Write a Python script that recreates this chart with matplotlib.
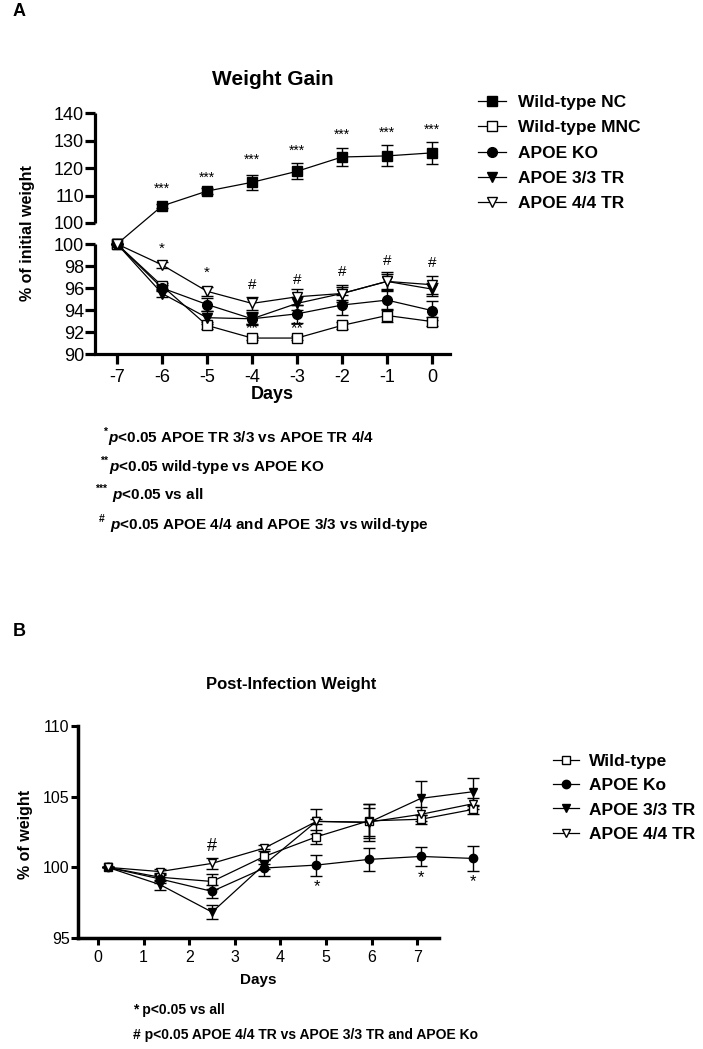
import numpy as np
import matplotlib
matplotlib.use("Agg")
import matplotlib.pyplot as plt
from matplotlib.transforms import blended_transform_factory

plt.rcParams['font.family'] = ['Liberation Sans', 'DejaVu Sans']
plt.rcParams['mathtext.fontset'] = 'custom'
plt.rcParams['mathtext.rm'] = 'Liberation Sans:bold'
plt.rcParams['mathtext.it'] = 'Liberation Sans:italic:bold'
plt.rcParams['mathtext.bf'] = 'Liberation Sans:bold'

# ---- Panel A data: weight gain (% of initial weight) ----
days_a = [-7, -6, -5, -4, -3, -2, -1, 0]
wt_nc = [100, 106.2, 111.6, 114.8, 118.8, 124.0, 124.4, 125.5]
wt_nc_err = [0, 0.7, 1.0, 2.7, 2.9, 3.3, 3.8, 4.1]
wt_mnc = [100, 96.2, 92.6, 91.45, 91.45, 92.6, 93.5, 92.95]
wt_mnc_err = [0, 0.3, 0.3, 0.2, 0.2, 0.3, 0.6, 0.4]
ko_a = [100, 96.0, 94.5, 93.2, 93.65, 94.45, 94.9, 93.95]
ko_a_err = [0, 0.3, 0.55, 0.6, 0.8, 0.9, 0.9, 0.85]
tr33_a = [100, 95.5, 93.3, 93.2, 94.6, 95.5, 96.6, 95.9]
tr33_a_err = [0, 0.3, 0.6, 0.5, 0.6, 0.8, 0.9, 0.6]
tr44_a = [100, 98.1, 95.7, 94.6, 95.2, 95.5, 96.6, 96.3]
tr44_a_err = [0, 0.3, 0.4, 0.6, 0.7, 0.6, 0.7, 0.8]
labels_a = ['Wild-type NC', 'Wild-type MNC', 'APOE KO', 'APOE 3/3 TR', 'APOE 4/4 TR']

# significance marks panel A
sig3_x = [-6, -5, -4, -3, -2, -1, 0]
sig3_y = [112.4, 116.4, 122.9, 126.3, 132.0, 132.8, 133.8]
sig1_x = [-6, -5]
sig1_y = [99.6, 97.4]
sig2_x = [-4, -3]
sig2_y = [92.3, 92.3]
hash_a_x = [-4, -3, -2, -1, 0]
hash_a_y = [96.3, 96.7, 97.45, 98.5, 98.3]

# ---- Panel B data: post-infection weight (% of weight) ----
days_b = [0, 1, 2, 3, 4, 5, 6, 7]
wt_b = [100, 99.3, 99.0, 100.77, 102.16, 103.29, 103.4, 104.1]
wt_b_err = [0, 0.3, 0.5, 0.5, 0.5, 1.2, 0.3, 0.3]
ko_b = [100, 99.18, 98.3, 99.95, 100.16, 100.56, 100.77, 100.63]
ko_b_err = [0, 0.3, 0.45, 0.55, 0.74, 0.8, 0.7, 0.9]
tr33_b = [100, 98.78, 96.83, 100.2, 103.25, 103.17, 104.88, 105.35]
tr33_b_err = [0, 0.35, 0.5, 0.3, 0.9, 1.3, 1.2, 1.0]
tr44_b = [100, 99.7, 100.28, 101.36, 103.25, 103.2, 103.75, 104.5]
tr44_b_err = [0, 0.2, 0.4, 0.2, 0.2, 1.0, 0.5, 0.4]
labels_b = ['Wild-type', 'APOE Ko', 'APOE 3/3 TR', 'APOE 4/4 TR']

star_b_x = [4, 6, 7]
star_b_y = [98.6, 99.25, 99.0]
hash_b_x = [2]
hash_b_y = [101.45]

W, H = 703, 1049
fig = plt.figure(figsize=(W / 100, H / 100), dpi=100)


def px_axes(left, top, right, bottom, **kw):
    return fig.add_axes([left / W, 1 - bottom / H, (right - left) / W, (bottom - top) / H], **kw)


# broken y scale: 90-100 stretched, 100-140 compressed, gap between
def fwd(y):
    y = np.asarray(y, dtype=float)
    return np.where(y <= 100, (y - 90) * 11, 131 + (y - 100) * 2.75)


def inv(u):
    u = np.asarray(u, dtype=float)
    return np.where(u <= 110, 90 + u / 11, np.where(u < 131, 100, 100 + (u - 131) / 2.75))


styles = [('s', 'black'), ('s', 'white'), ('o', 'black'), ('v', 'black'), ('v', 'white')]

# ================= Panel A =================
ax = px_axes(95, 113, 450, 354)
ax.set_yscale('function', functions=(fwd, inv))
ax.set_xlim(-7.49, 0.4)
ax.set_ylim(90, 140)

series_a = [(wt_nc, wt_nc_err), (wt_mnc, wt_mnc_err), (ko_a, ko_a_err),
            (tr33_a, tr33_a_err), (tr44_a, tr44_a_err)]
handles_a = []
for (vals, errs), (mk, fc), lab in zip(series_a, styles, labels_a):
    ax.errorbar(days_a, vals, yerr=errs, fmt='none', ecolor='black', elinewidth=1.0,
                capsize=4, capthick=1.0, zorder=2)
    ln, = ax.plot(days_a, vals, marker=mk, color='black', mfc=fc, mec='black',
                  ms=7, mew=1.0, lw=0.9, label=lab, zorder=3, clip_on=False)
    handles_a.append(ln)

for x, y in zip(sig3_x, sig3_y):
    ax.text(x, y, '***', ha='center', va='center', fontsize=10)
for x, y in zip(sig1_x, sig1_y):
    ax.text(x, y, '*', ha='center', va='center', fontsize=11)
for x, y in zip(sig2_x, sig2_y):
    ax.text(x, y, '**', ha='center', va='center', fontsize=12)
for x, y in zip(hash_a_x, hash_a_y):
    ax.text(x, y, '#', ha='center', va='center', fontsize=11)

ax.spines['top'].set_visible(False)
ax.spines['right'].set_visible(False)
ax.spines['left'].set_visible(False)
ax.spines['bottom'].set_linewidth(2.3)
tr = blended_transform_factory(ax.transAxes, ax.transData)
ax.plot([0, 0], [90, 100], transform=tr, color='black', lw=2.3, clip_on=False, solid_capstyle='butt')
ax.plot([0, 0], [100.0001, 140], transform=tr, color='black', lw=2.3, clip_on=False, solid_capstyle='butt')

yt = [90, 92, 94, 96, 98, 100, 100.0001, 110, 120, 130, 140]
ax.set_yticks(yt)
ax.set_yticklabels(['90', '92', '94', '96', '98', '100', '100', '110', '120', '130', '140'])
ax.minorticks_off()
ax.set_xticks(days_a)
ax.set_xticklabels([str(d) for d in days_a])
ax.tick_params(axis='y', direction='out', length=7, width=2.3, labelsize=13, pad=1)
ax.tick_params(axis='x', direction='out', length=7, width=2.3, labelsize=13, pad=4)
ax.set_xlabel('Days', fontsize=13, fontweight='bold', labelpad=0)
ax.set_ylabel('% of initial weight', fontsize=11.5, fontweight='bold')
ax.yaxis.set_label_coords(-0.17, 0.5)
ax.set_title('Weight Gain', fontsize=15, fontweight='bold', pad=20)

fig.legend(handles_a, labels_a, loc='upper left', bbox_to_anchor=(478 / W, 1 - 95 / H),
           frameon=False, prop={'weight': 'bold', 'size': 12.5}, handlelength=1.6,
           handletextpad=0.7, labelspacing=0.58, borderpad=0, borderaxespad=0)

# footnotes panel A: superscript marks drawn as small raised text
fn_a_sup = ['*', '**', '***', '#']
fn_a_sup_x = [103, 100, 95, 99]
fn_a = [r"$\mathit{p}$<0.05 APOE TR 3/3 vs APOE TR 4/4",
        r"$\mathit{p}$<0.05 wild-type vs APOE KO",
        r"$\mathit{p}$<0.05 vs all",
        r"$\mathit{p}$<0.05 APOE 4/4 and APOE 3/3 vs wild-type"]
fn_a_x = [108, 109, 112, 110]
fn_a_y = [438, 467, 495, 525]
for s, sx, t, x, y in zip(fn_a_sup, fn_a_sup_x, fn_a, fn_a_x, fn_a_y):
    fig.text(sx / W, 1 - (y - 6) / H, s, fontsize=7.5, fontweight='bold', va='center', ha='left')
    fig.text(x / W, 1 - y / H, t, fontsize=11, fontweight='bold', va='center', ha='left')

fig.text(13 / W, 1 - 12 / H, 'A', fontsize=13, fontweight='bold', va='center')
fig.text(13 / W, 1 - 632 / H, 'B', fontsize=13, fontweight='bold', va='center')

# ================= Panel B =================
axb = px_axes(78, 726, 439, 938)
axb.set_xlim(-0.44, 7.48)
axb.set_ylim(95, 110)
# data layer (points sit offset from the tick marks in the original)
axd = px_axes(78, 726, 490, 938, frameon=False)
axd.set_xlim(-0.569, 7.324)
axd.set_ylim(95, 110)
axd.set_xticks([])
axd.set_yticks([])

styles_b = [('s', 'white'), ('o', 'black'), ('v', 'black'), ('v', 'white')]
series_b = [(wt_b, wt_b_err), (ko_b, ko_b_err), (tr33_b, tr33_b_err), (tr44_b, tr44_b_err)]
handles_b = []
for (vals, errs), (mk, fc), lab in zip(series_b, styles_b, labels_b):
    axd.errorbar(days_b, vals, yerr=errs, fmt='none', ecolor='black', elinewidth=1.0,
                 capsize=4, capthick=1.0, zorder=2, clip_on=False)
    ln, = axd.plot(days_b, vals, marker=mk, color='black', mfc=fc, mec='black',
                   ms=6, mew=1.0, lw=0.9, label=lab, zorder=3, clip_on=False)
    handles_b.append(ln)

for x, y in zip(star_b_x, star_b_y):
    axd.text(x, y, '*', ha='center', va='center', fontsize=12)
for x, y in zip(hash_b_x, hash_b_y):
    axd.text(x, y, '#', ha='center', va='center', fontsize=13)

axb.spines['top'].set_visible(False)
axb.spines['right'].set_visible(False)
axb.spines['left'].set_linewidth(2.5)
axb.spines['bottom'].set_linewidth(2.5)
axb.set_xticks(days_b)
axb.set_yticks([95, 100, 105, 110])
axb.tick_params(axis='both', direction='out', length=5, width=2.2, labelsize=11.5)
axb.tick_params(axis='y', pad=1)
axb.set_xlabel('Days', fontsize=11, fontweight='bold', labelpad=6)
axb.set_ylabel('% of weight', fontsize=11.5, fontweight='bold')
axb.yaxis.set_label_coords(-0.125, 0.49)
fig.text(291 / W, 1 - 685 / H, 'Post-Infection Weight', fontsize=12, fontweight='bold',
         ha='center', va='center')

fig.legend(handles_b, labels_b, loc='upper left', bbox_to_anchor=(553 / W, 1 - 754 / H),
           frameon=False, prop={'weight': 'bold', 'size': 12.5}, handlelength=1.5,
           handletextpad=0.6, labelspacing=0.52, borderpad=0, borderaxespad=0)

fn_b = ['* p<0.05 vs all', '# p<0.05 APOE 4/4 TR vs APOE 3/3 TR and APOE Ko']
fn_b_y = [1010, 1035]
for t, y in zip(fn_b, fn_b_y):
    fig.text(133 / W, 1 - y / H, t, fontsize=10, fontweight='bold', va='center', ha='left')

fig.savefig('out.png', dpi=100)
